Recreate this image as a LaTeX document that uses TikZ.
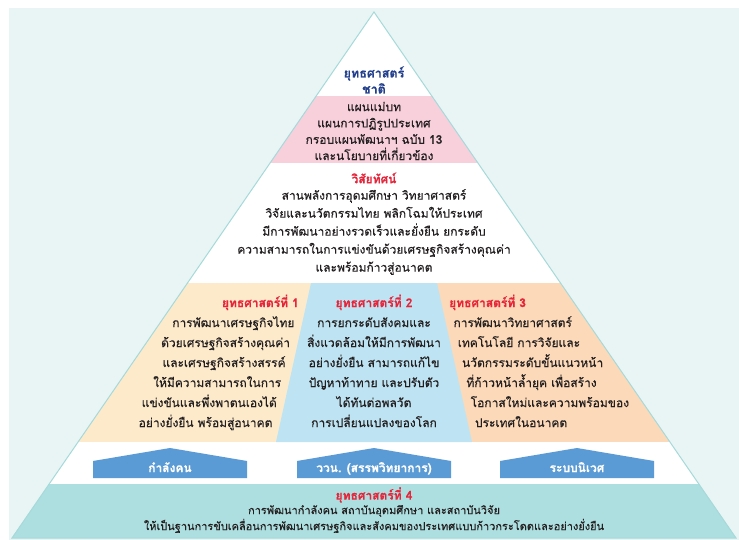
\documentclass[tikz,border=0pt]{standalone}
\usepackage{fontspec}
\newfontfamily\thaifont[Script=Thai,FakeBold=0.4]{Loma}
\definecolor{bgcyan}{HTML}{E9F5F5}
\definecolor{edgeteal}{HTML}{A5D9DA}
\definecolor{pinkband}{HTML}{F8D0DC}
\definecolor{yellowband}{HTML}{FDEACB}
\definecolor{blueband}{HTML}{BEE4F3}
\definecolor{peachband}{HTML}{FCD9B8}
\definecolor{tealband}{HTML}{AEDFE0}
\definecolor{housefill}{HTML}{5B9BD5}
\definecolor{navytitle}{HTML}{23408E}
\definecolor{redhead}{HTML}{E6243A}
\definecolor{bodytext}{HTML}{231F20}
\begin{document}
\begin{tikzpicture}[x=1pt,y=-1pt,
  body/.style={font=\thaifont\fontsize{12}{18}\selectfont, text=bodytext, align=center, inner sep=0pt},
  colline/.style={font=\thaifont\fontsize{12}{20}\selectfont, text=bodytext, inner sep=0pt},
  heading/.style={font=\thaifont\bfseries\fontsize{12}{16}\selectfont, text=redhead, inner sep=0pt},
  house/.style={fill=housefill},
  houselabel/.style={font=\thaifont\bfseries\fontsize{12}{14}\selectfont, text=white, inner sep=0pt}]
\useasboundingbox (0,0) rectangle (739,540);
\fill[bgcyan] (9,8) rectangle (739,540);
\coordinate (apex) at (374,12);
\coordinate (bl) at (12,538);
\coordinate (br) at (736,538);
% bands of the pyramid
\begin{scope}
\clip (apex) -- (bl) -- (br) -- cycle;
\fill[white] (0,0) rectangle (739,540);
\fill[pinkband] (0,96) rectangle (739,163);
\fill[yellowband] (0,283) rectangle (374,442);
\fill[peachband] (374,283) rectangle (739,442);
\fill[blueband] (311,283) -- (437,283) -- (472,442) -- (276,442) -- cycle;
\fill[tealband] (0,484) rectangle (739,540);
\end{scope}
\draw[edgeteal, line width=1pt] (apex) -- (bl) -- (br) -- cycle;

% top
\node[font=\thaifont\bfseries\fontsize{12.5}{16}\selectfont, text=navytitle, align=center, inner sep=0pt] (nat) at (374,80) {ยุทธศาสตร์\\ชาติ};
\node[body, font=\thaifont\fontsize{12}{16.3}\selectfont] (plans) at (374,131) {แผนแม่บท\\แผนการปฏิรูปประเทศ\\กรอบแผนพัฒนาฯ ฉบับ 13\\และนโยบายที่เกี่ยวข้อง};

% vision
\node[heading] (vish) at (374,178) {วิสัยทัศน์};
\node[body] (vis) at (374,232) {สานพลังการอุดมศึกษา วิทยาศาสตร์\\วิจัยและนวัตกรรมไทย พลิกโฉมให้ประเทศ\\มีการพัฒนาอย่างรวดเร็วและยั่งยืน ยกระดับ\\ความสามารถในการแข่งขันด้วยเศรษฐกิจสร้างคุณค่า\\และพร้อมก้าวสู่อนาคต};

% strategies 1-3
\node[heading, anchor=base east] (s1h) at (299,307) {ยุทธศาสตร์ที่ 1};
\foreach \t [count=\i] in {การพัฒนาเศรษฐกิจไทย, ด้วยเศรษฐกิจสร้างคุณค่า, และเศรษฐกิจสร้างสรรค์, ให้มีความสามารถในการ, แข่งขันและพึ่งพาตนเองได้, อย่างยั่งยืน พร้อมสู่อนาคต}
  \node[colline, anchor=base east] (s1l\i) at ({299-4.4*\i},{307+20*\i}) {\t};

\node[heading, anchor=base] (s2h) at (374,307) {ยุทธศาสตร์ที่ 2};
\foreach \t [count=\i] in {การยกระดับสังคมและ, สิ่งแวดล้อมให้มีการพัฒนา, อย่างยั่งยืน สามารถแก้ไข, ปัญหาท้าทาย และปรับตัว, ได้ทันต่อพลวัต, การเปลี่ยนแปลงของโลก}
  \node[colline, anchor=base] (s2l\i) at (374,{307+20*\i}) {\t};

\node[heading, anchor=base west] (s3h) at (449,307) {ยุทธศาสตร์ที่ 3};
\foreach \t [count=\i] in {การพัฒนาวิทยาศาสตร์, เทคโนโลยี การวิจัยและ, นวัตกรรมระดับขั้นแนวหน้า, ที่ก้าวหน้าล้ำยุค เพื่อสร้าง, โอกาสใหม่และความพร้อมของ, ประเทศในอนาคต}
  \node[colline, anchor=base west] (s3l\i) at ({449+4.3*\i},{307+20*\i}) {\t};

% foundations
\foreach \cx/\nm/\txt in {170/ar1/กำลังคน, 374/ar2/ววน. (สรรพวิทยาการ), 577/ar3/ระบบนิเวศ} {
  \fill[house] (\cx-77,478) -- (\cx-77,461) -- (\cx,448) -- (\cx+77,461) -- (\cx+77,478) -- cycle;
  \node[houselabel, anchor=base] (\nm) at (\cx,472) {\txt};
}

% strategy 4
\node[heading] (s4h) at (374,495) {ยุทธศาสตร์ที่ 4};
\node[body, font=\thaifont\fontsize{11}{16}\selectfont] (s4) at (374,519) {การพัฒนากำลังคน สถาบันอุดมศึกษา และสถาบันวิจัย\\ให้เป็นฐานการขับเคลื่อนการพัฒนาเศรษฐกิจและสังคมของประเทศแบบก้าวกระโดดและอย่างยั่งยืน};
\end{tikzpicture}
\end{document}
